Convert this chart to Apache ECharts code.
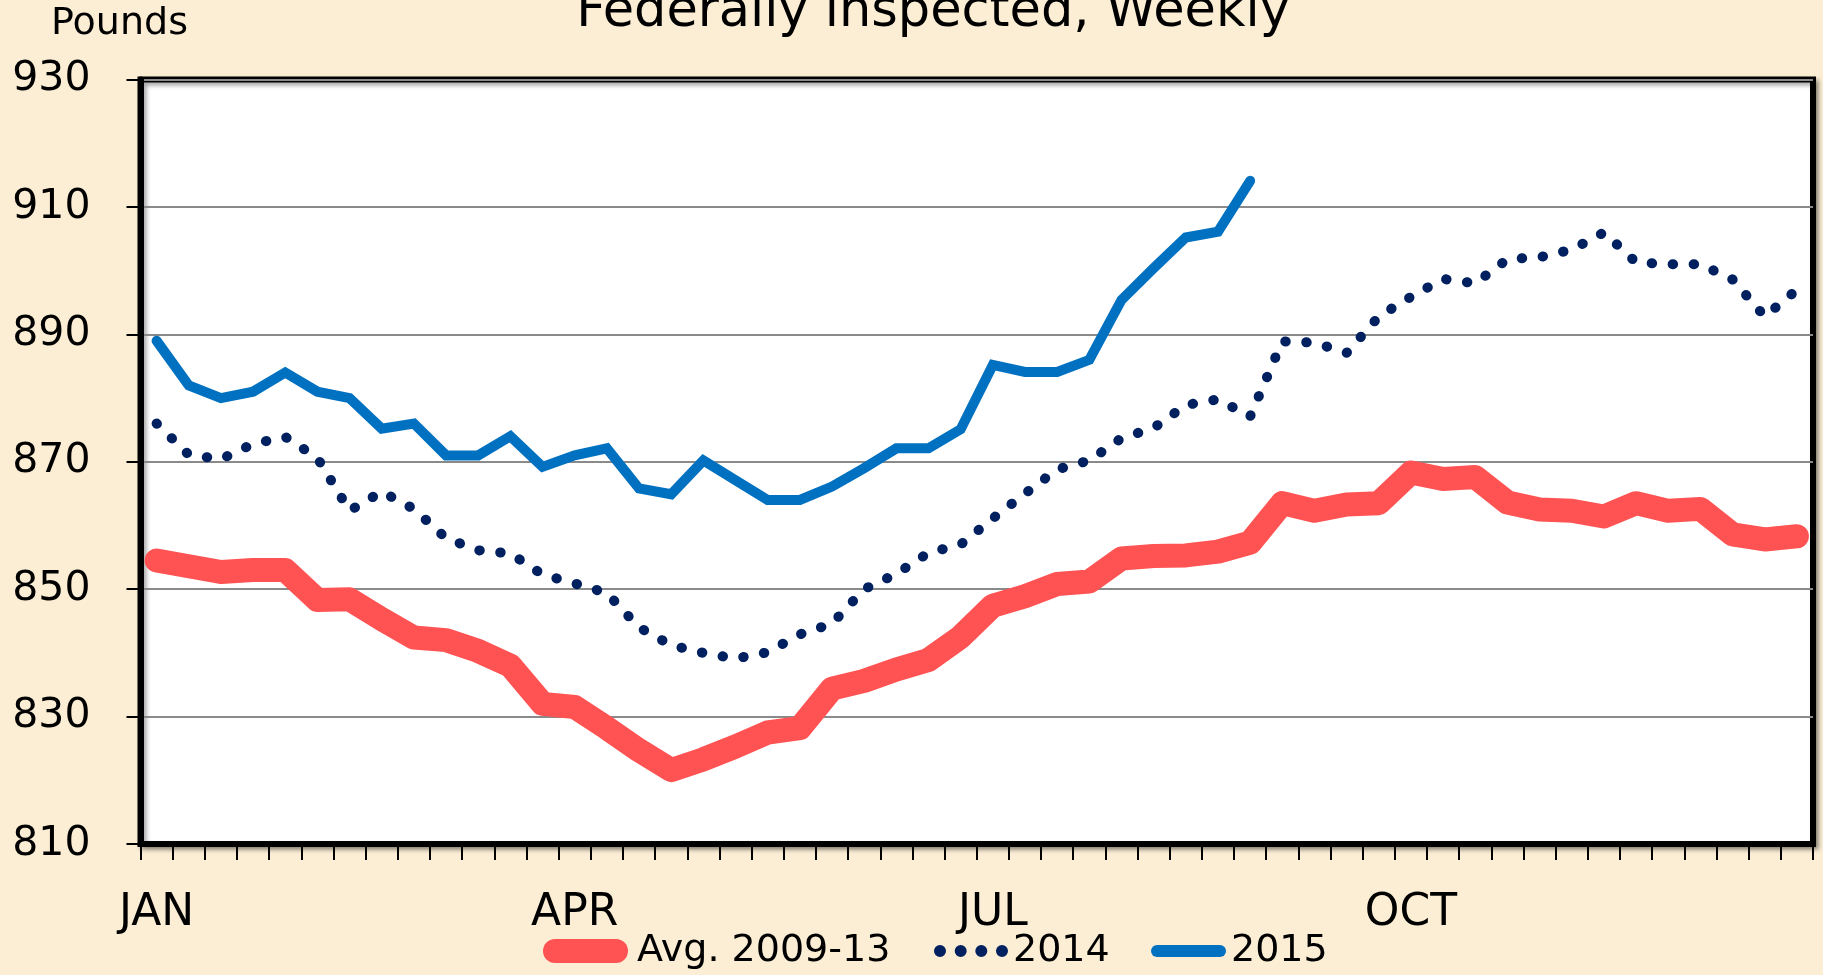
<!DOCTYPE html>
<html>
<head>
<meta charset="utf-8">
<script src="https://cdn.jsdelivr.net/npm/echarts@6/dist/echarts.min.js"></script>
<style>
html,body{margin:0;padding:0;background:#FBEED5;}
#chart{width:1823px;height:975px;}
</style>
</head>
<body>
<div id="chart"></div>
<script>
// ---- data ----
const weeks = [1,2,3,4,5,6,7,8,9,10,11,12,13,14,15,16,17,18,19,20,21,22,23,24,25,26,
               27,28,29,30,31,32,33,34,35,36,37,38,39,40,41,42,43,44,45,46,47,48,49,50,51,52];
const monthLabels = ['JAN', 'APR', 'JUL', 'OCT'];
const monthLabelWeekIndex = [0, 13, 26, 39];
const yTicks = [810, 830, 850, 870, 890, 910, 930];
const seriesNames = ['Avg. 2009-13', '2014', '2015'];

const avg2009_13 = [854.5, 853.6, 852.7, 853.0, 853.0, 848.3, 848.4, 845.3, 842.4, 842.0,
                    840.3, 838.0, 832.0, 831.5, 828.2, 824.7, 821.6, 823.3, 825.3, 827.5,
                    828.2, 834.4, 835.6, 837.4, 838.9, 842.5, 847.4, 848.9, 850.8, 851.2,
                    854.8, 855.2, 855.3, 855.9, 857.3, 863.5, 862.3, 863.3, 863.5, 868.3,
                    867.3, 867.6, 863.6, 862.5, 862.3, 861.4, 863.5, 862.3, 862.6, 858.6,
                    857.8, 858.3];
const y2014 = [876.0, 871.1, 870.4, 872.8, 873.9, 870.6, 862.3, 865.3, 862.6, 858.0,
               856.1, 855.6, 852.3, 850.9, 849.4, 844.0, 841.2, 840.0, 839.1, 840.1,
               842.9, 844.6, 850.0, 852.4, 855.7, 857.0, 861.1, 865.0, 868.8, 870.2,
               873.7, 875.3, 878.9, 879.8, 877.1, 888.9, 888.7, 887.1, 892.8, 895.9,
               898.7, 898.0, 901.8, 902.1, 903.3, 906.0, 901.3, 901.0, 901.0, 898.6,
               892.8, 897.0];
const y2015 = [889.0, 882.0, 880.0, 881.0, 884.0, 881.0, 880.0, 875.2, 876.0, 871.0,
               871.0, 874.0, 869.2, 871.0, 872.1, 865.8, 864.9, 870.2, 867.1, 864.0,
               864.0, 866.1, 869.0, 872.1, 872.1, 875.1, 885.2, 884.1, 884.1, 886.0,
               895.4, 900.4, 905.2, 906.1, 914.1];

// ---- style ----
const FONT = 'DejaVu Sans';
const RED = '#FF5252';
const NAVY = '#002060';
const BLUE = '#0070C0';

const chart = echarts.init(document.getElementById('chart'), null, {renderer: 'canvas'});

function legendFor(name, color, left, w, h, icon, pad) {
  return {
    show: true,
    left: left,
    top: 932,
    padding: 0,
    itemWidth: w,
    itemHeight: h,
    selectedMode: false,
    data: [{name: name, icon: icon, itemStyle: {color: color, borderWidth: 0}}],
    textStyle: {fontFamily: FONT, fontSize: 38, color: '#000', padding: pad}
  };
}

const option = {
  animation: false,
  backgroundColor: '#FBEED5',
  title: [
    {
      text: 'Federally inspected, Weekly',
      left: 933, top: -13, textAlign: 'center', padding: 0,
      textStyle: {fontFamily: FONT, fontSize: 51, fontWeight: 'normal', color: '#000'}
    },
    {
      text: 'Pounds',
      left: 119.5, top: 5, textAlign: 'center', padding: 0,
      textStyle: {fontFamily: FONT, fontSize: 38, fontWeight: 'normal', color: '#000'}
    }
  ],
  legend: [
    legendFor(seriesNames[0], RED, 543, 85, 24,
      'path://M12,0 L73,0 A12,12 0 0 1 73,24 L12,24 A12,12 0 0 1 12,0 Z', [0, 0, 0, 4]),
    legendFor(seriesNames[1], NAVY, 934, 74, 12,
      'path://M0,6 A6,6 0 1 0 12,6 A6,6 0 1 0 0,6 Z ' +
      'M20.7,6 A6,6 0 1 0 32.7,6 A6,6 0 1 0 20.7,6 Z ' +
      'M41.3,6 A6,6 0 1 0 53.3,6 A6,6 0 1 0 41.3,6 Z ' +
      'M62,6 A6,6 0 1 0 74,6 A6,6 0 1 0 62,6 Z', [0, 0, 0, 0]),
    legendFor(seriesNames[2], BLUE, 1151, 75, 12,
      'path://M6,0 L69,0 A6,6 0 0 1 69,12 L6,12 A6,6 0 0 1 6,0 Z', [0, 0, 0, 0])
  ],
  grid: {
    left: 140.5, top: 79.5, width: 1672.5, height: 764.5,
    show: true, backgroundColor: '#FFFFFF', borderColor: '#000', borderWidth: 6,
    shadowColor: 'rgba(0,0,0,0.35)', shadowBlur: 4, shadowOffsetX: 3, shadowOffsetY: 3,
    containLabel: false, outerBoundsMode: 'none'
  },
  xAxis: {
    type: 'category',
    data: weeks,
    boundaryGap: true,
    axisLine: {show: true, lineStyle: {color: '#000', width: 6}},
    axisTick: {show: true, interval: 0, length: 16, inside: false, lineStyle: {color: '#000', width: 2}},
    axisLabel: {
      show: true, interval: 0, margin: 48,
      fontFamily: FONT, fontSize: 44, color: '#000',
      formatter: function (v, idx) {
        const k = monthLabelWeekIndex.indexOf(idx);
        return k >= 0 ? monthLabels[k] : '';
      }
    },
    splitLine: {show: false}
  },
  yAxis: {
    type: 'value',
    min: yTicks[0], max: yTicks[yTicks.length - 1], interval: yTicks[1] - yTicks[0],
    axisLine: {show: true, lineStyle: {color: '#000', width: 6}},
    axisTick: {show: true, length: 14, inside: false, lineStyle: {color: '#000', width: 2}},
    axisLabel: {show: true, margin: 50, fontFamily: FONT, fontSize: 41, color: '#000'},
    splitLine: {show: true, lineStyle: {color: '#8A8A8A', width: 2}}
  },
  series: [
    {
      name: seriesNames[0], type: 'line', data: avg2009_13, symbol: 'none', smooth: false,
      color: RED,
      lineStyle: {color: RED, width: 24, cap: 'round', join: 'round'}, z: 2
    },
    {
      name: seriesNames[1], type: 'line', data: y2014, symbol: 'none', smooth: false,
      color: NAVY,
      lineStyle: {color: NAVY, width: 10, type: [0.5, 20.5], cap: 'round', join: 'round'}, z: 3
    },
    {
      name: seriesNames[2], type: 'line', data: y2015, symbol: 'none', smooth: false,
      color: BLUE,
      lineStyle: {color: BLUE, width: 10, cap: 'round', join: 'miter'}, z: 4
    }
  ]
};
chart.setOption(option);
</script>
</body>
</html>
